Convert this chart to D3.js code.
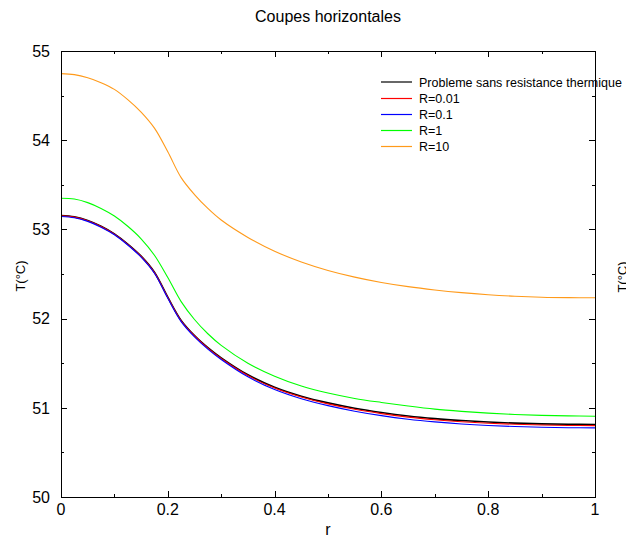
<!DOCTYPE html>
<html>
<head>
<meta charset="utf-8">
<script src="https://cdn.jsdelivr.net/npm/d3@7"></script>
<style>
  html, body { margin: 0; padding: 0; background: #fff; }
  svg { display: block; }
  text { font-family: "Liberation Sans", Arial, sans-serif; fill: #000; }
</style>
</head>
<body>
<svg id="chart" width="626" height="537"></svg>
<script>
const titleText = "Coupes horizontales";
const xLabel = "r";
const yLabel = "T(°C)";
const xTicks = [0, 0.2, 0.4, 0.6, 0.8, 1];
const xTickLabels = ["0", "0.2", "0.4", "0.6", "0.8", "1"];
const yTicks = [50, 51, 52, 53, 54, 55];
const yTickLabels = ["50", "51", "52", "53", "54", "55"];
const seriesNames = ["Probleme sans resistance thermique", "R=0.01", "R=0.1", "R=1", "R=10"];
const seriesColors = ["#000000", "#ff0000", "#0000ff", "#00ff00", "#ff9a1a"];

const rValues = [0, 0.025, 0.05, 0.075, 0.1, 0.125, 0.15, 0.175, 0.2, 0.225, 0.25, 0.275, 0.3,
  0.35, 0.4, 0.45, 0.5, 0.55, 0.6, 0.65, 0.7, 0.75, 0.8, 0.85, 0.9, 0.95, 1.0];
const tSansResistance = [53.155, 53.14, 53.10, 53.035, 52.95, 52.835, 52.70, 52.52, 52.24, 51.98, 51.81, 51.675, 51.56,
  51.37, 51.23, 51.13, 51.055, 50.995, 50.947, 50.908, 50.879, 50.857, 50.84, 50.828, 50.82, 50.815, 50.813];
const tR001 = [53.153, 53.138, 53.098, 53.033, 52.947, 52.832, 52.697, 52.516, 52.236, 51.975, 51.805, 51.669, 51.553,
  51.362, 51.221, 51.12, 51.044, 50.983, 50.935, 50.895, 50.866, 50.844, 50.827, 50.815, 50.807, 50.802, 50.80];
const tR01 = [53.145, 53.13, 53.09, 53.025, 52.94, 52.825, 52.689, 52.508, 52.227, 51.966, 51.795, 51.658, 51.541,
  51.347, 51.204, 51.101, 51.024, 50.962, 50.912, 50.872, 50.842, 50.819, 50.802, 50.79, 50.782, 50.777, 50.775];
const tR1 = [53.35, 53.34, 53.30, 53.235, 53.15, 53.035, 52.895, 52.71, 52.46, 52.19, 51.99, 51.83, 51.70,
  51.50, 51.355, 51.245, 51.165, 51.105, 51.06, 51.02, 50.985, 50.96, 50.94, 50.925, 50.915, 50.909, 50.906];
const tR10 = [54.746, 54.735, 54.70, 54.645, 54.57, 54.455, 54.315, 54.135, 53.87, 53.58, 53.39, 53.235, 53.105,
  52.91, 52.755, 52.635, 52.54, 52.465, 52.405, 52.358, 52.321, 52.291, 52.268, 52.251, 52.24, 52.235, 52.234];
const seriesValues = [tSansResistance, tR001, tR01, tR1, tR10];

const svg = d3.select("#chart");
const pLeft = 61, pRight = 595, pTop = 51, pBottom = 497;

const x = d3.scaleLinear().domain([0, 1]).range([pLeft, pRight]);
const y = d3.scaleLinear().domain([50, 55]).range([pBottom, pTop]);

const xMinor = d3.range(0, 1.0001, 0.1);
const yMinor = d3.range(50, 55.0001, 0.5);

const g = svg.append("g");

// ticks (inward, all four sides)
const tickG = g.append("g").attr("stroke", "#000").attr("stroke-width", 1).attr("shape-rendering", "crispEdges");
xMinor.forEach(v => {
  const isMajor = xTicks.some(t => Math.abs(t - v) < 1e-9);
  const len = isMajor ? 6 : 3;
  const px = Math.round(x(v)) + 0.5;
  tickG.append("line").attr("x1", px).attr("x2", px).attr("y1", pBottom).attr("y2", pBottom - len);
  tickG.append("line").attr("x1", px).attr("x2", px).attr("y1", pTop).attr("y2", pTop + len);
});
yMinor.forEach(v => {
  const isMajor = yTicks.some(t => Math.abs(t - v) < 1e-9);
  const len = isMajor ? 6 : 3;
  const py = Math.round(y(v)) + 0.5;
  tickG.append("line").attr("x1", pLeft).attr("x2", pLeft + len).attr("y1", py).attr("y2", py);
  tickG.append("line").attr("x1", pRight).attr("x2", pRight - len).attr("y1", py).attr("y2", py);
});

// tick labels
xTicks.forEach((v, i) => {
  g.append("text").attr("x", x(v)).attr("y", 515).attr("text-anchor", "middle")
    .attr("font-size", 16).text(xTickLabels[i]);
});
yTicks.forEach((v, i) => {
  g.append("text").attr("x", 50).attr("y", y(v)).attr("dy", "0.36em").attr("text-anchor", "end")
    .attr("font-size", 16).text(yTickLabels[i]);
});

// lines
const line = d3.line().x((d, i) => x(rValues[i])).y(d => y(d)).curve(d3.curveCatmullRom.alpha(0.5));
const lineG = g.append("g");
seriesValues.forEach((vals, k) => {
  lineG.append("path").datum(vals).attr("d", line).attr("fill", "none")
    .attr("stroke", seriesColors[k]).attr("stroke-width", k === 0 ? 1.6 : 1.1);
});

// legend
const legendY = [82, 98.5, 114.5, 130.5, 146.5];
seriesNames.forEach((name, k) => {
  g.append("line").attr("x1", 381).attr("x2", 412).attr("y1", legendY[k]).attr("y2", legendY[k])
    .attr("stroke", seriesColors[k]).attr("stroke-width", 1.2);
  g.append("text").attr("x", 419).attr("y", legendY[k]).attr("dy", "0.36em")
    .attr("font-size", 12.5).text(name);
});

// frame
g.append("rect").attr("x", pLeft + 0.5).attr("y", pTop + 0.5)
  .attr("width", pRight - pLeft).attr("height", pBottom - pTop)
  .attr("fill", "none").attr("stroke", "#000").attr("stroke-width", 1).attr("shape-rendering", "crispEdges");

// title and axis labels
g.append("text").attr("x", (pLeft + pRight) / 2).attr("y", 21.5).attr("text-anchor", "middle")
  .attr("font-size", 16).text(titleText);
g.append("text").attr("x", (pLeft + pRight) / 2).attr("y", 535).attr("text-anchor", "middle")
  .attr("font-size", 16).text(xLabel);
g.append("text").attr("transform", "translate(25,276) rotate(-90)").attr("text-anchor", "middle")
  .attr("font-size", 13).text(yLabel);
g.append("text").attr("transform", "translate(627,277) rotate(-90)").attr("text-anchor", "middle")
  .attr("font-size", 13).text(yLabel);
</script>
</body>
</html>
